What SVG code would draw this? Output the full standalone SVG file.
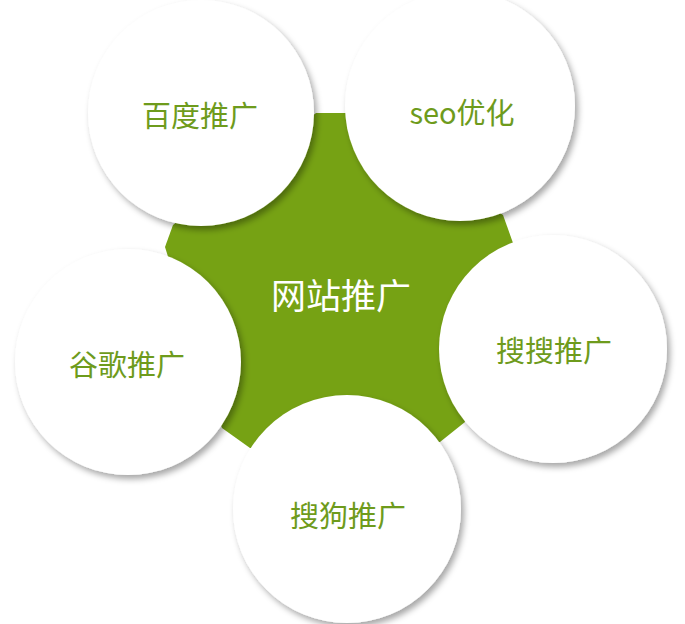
<svg xmlns="http://www.w3.org/2000/svg" width="685" height="624" viewBox="0 0 685 624">
<defs>
<filter id="sh" x="-20%" y="-20%" width="140%" height="140%">
<feDropShadow dx="3" dy="4" stdDeviation="3" flood-color="#000" flood-opacity="0.35"/>
</filter>
</defs>
<style>
.c{fill:#fff;filter:url(#sh)}
.t{font-family:"Noto Sans CJK SC","Microsoft YaHei",sans-serif;font-size:29px;fill:#6e9b1c;text-anchor:middle}
.ct{font-family:"Noto Sans CJK SC","Microsoft YaHei",sans-serif;font-size:35px;fill:#fff;text-anchor:middle}
</style>
<rect width="685" height="624" fill="#fff"/>
<g id="center">
<polygon points="316,113 347,113 503,215 513,243 465,422 440,442 250,448 222,428 165,247 173,225" fill="#76a214"/>
<text class="ct" x="341" y="309">网站推广</text>
</g>
<g id="connectors"></g>
<g id="baidu">
<circle class="c" cx="201" cy="113" r="113"/>
<text class="t" x="200" y="127">百度推广</text>
</g>
<g id="seo">
<circle class="c" cx="460" cy="106" r="115"/>
<text class="t" x="462" y="124">seo优化</text>
</g>
<g id="google">
<circle class="c" cx="128" cy="362" r="113"/>
<text class="t" x="127" y="376">谷歌推广</text>
</g>
<g id="soso">
<circle class="c" cx="553" cy="349" r="114"/>
<text class="t" x="554" y="362">搜搜推广</text>
</g>
<g id="sogou">
<circle class="c" cx="347" cy="509" r="114"/>
<text class="t" x="348" y="527">搜狗推广</text>
</g>
</svg>
